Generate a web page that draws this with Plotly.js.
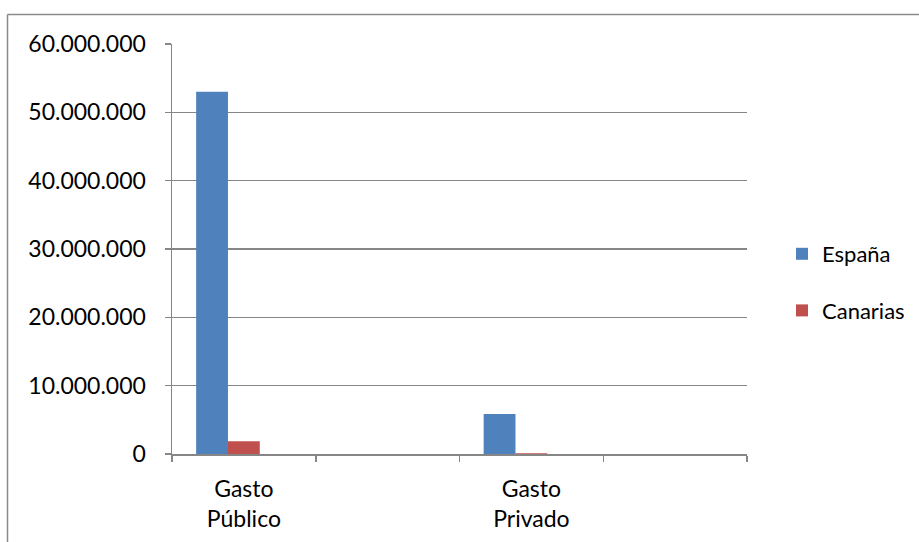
<!DOCTYPE html>
<html>
<head>
<meta charset="utf-8">
<script src="https://cdn.plot.ly/plotly-3.0.1.min.js"></script>
<style>html,body{margin:0;padding:0;background:#fff;}#chart{width:919px;height:542px;}</style>
</head>
<body>
<div id="chart"></div>
<script>
// Category slots (4 slots on the axis, two labelled)
const slots = ["s1", "s2", "s3", "s4"];
const slotLabels = ["Gasto<br>Público", "", "Gasto<br>Privado", ""];
// Series values
const espana = [53000000, null, 5850000, null];
const canarias = [1850000, null, 100000, null];
const empty = [null, null, null, null];
const yTicks = [0, 10000000, 20000000, 30000000, 40000000, 50000000, 60000000];

const W = 919, H = 542;
const M = {l: 172, r: 172, t: 44, b: 88, autoexpand: false};
const pw = W - M.l - M.r, ph = H - M.t - M.b;
const px = v => (v - M.l) / pw;
const py = v => (H - M.b - v) / ph;

const FONT = "Lato, 'Open Sans', sans-serif";
const GRID = "#868686";

const traces = [
  {type: "bar", name: "España", x: slots, y: espana, marker: {color: "#4F81BD"}, legendgroup: "a"},
  {type: "bar", name: "Canarias", x: slots, y: canarias, marker: {color: "#C0504D"}, legendgroup: "b"},
  {type: "bar", name: "", x: slots, y: empty, marker: {color: "#9BBB59"}, showlegend: false, hoverinfo: "skip"}
];

const layout = {
  width: W, height: H,
  margin: M,
  paper_bgcolor: "#fff", plot_bgcolor: "#fff",
  separators: ",.",
  font: {family: FONT, size: 23, color: "#000"},
  barmode: "group", bargap: 0.336, bargroupgap: 0,
  showlegend: true,
  legend: {x: px(782), xanchor: "left", y: py(233), yanchor: "top",
           font: {family: FONT, size: 22, color: "#000"},
           traceorder: "grouped", tracegroupgap: 25, itemwidth: 30,
           bgcolor: "rgba(0,0,0,0)"},
  xaxis: {type: "category", categoryorder: "array", categoryarray: slots,
          tickmode: "array", tickvals: slots, ticktext: slotLabels,
          tickson: "boundaries", ticks: "outside", ticklen: 6, tickwidth: 1.5, tickcolor: GRID,
          showline: true, linecolor: GRID, linewidth: 1.5, showgrid: false, zeroline: false,
          ticklabelstandoff: 14,
          tickfont: {family: FONT, size: 23, color: "#000"}, range: [-0.5, 3.5], fixedrange: true},
  yaxis: {range: [0, 60000000], tickmode: "array", tickvals: yTicks, tickformat: ",.0f",
          ticks: "outside", ticklen: 6, tickwidth: 1.5, tickcolor: GRID,
          showline: true, linecolor: GRID, linewidth: 1.5,
          showgrid: true, gridcolor: GRID, gridwidth: 1.5, zeroline: false,
          ticklabelstandoff: 14,
          tickfont: {family: FONT, size: 23, color: "#000"}, fixedrange: true},
  shapes: [
    {type: "line", xref: "paper", yref: "paper", x0: px(7.5), x1: px(925), y0: py(14.5), y1: py(14.5), line: {color: "#8a8a8a", width: 1.5}},
    {type: "line", xref: "paper", yref: "paper", x0: px(7.5), x1: px(7.5), y0: py(14.5), y1: py(560), line: {color: "#8a8a8a", width: 1.5}}
  ]
};

Plotly.newPlot("chart", traces, layout, {displayModeBar: false, staticPlot: true});
</script>
</body>
</html>
